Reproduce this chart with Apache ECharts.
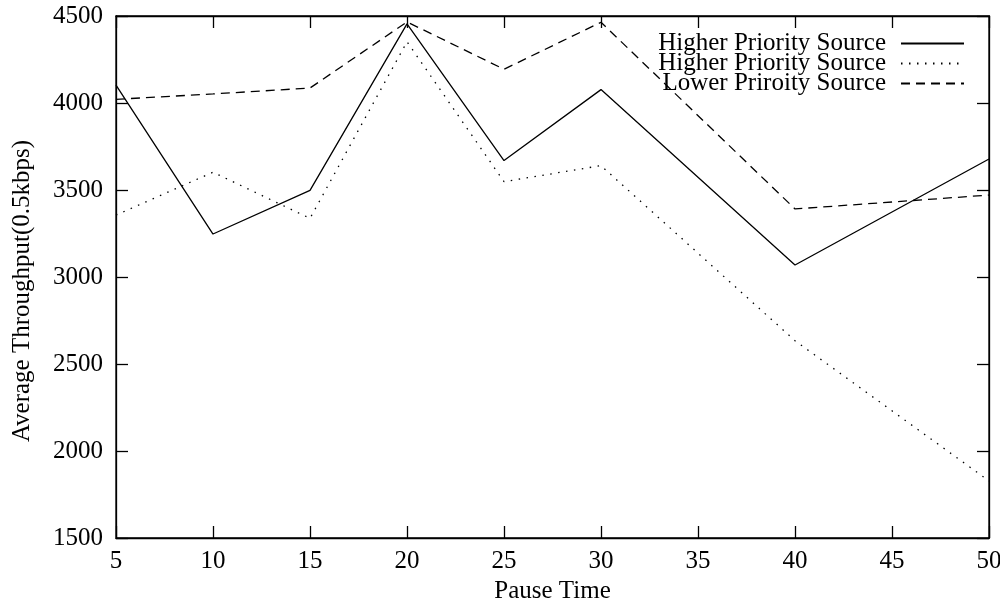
<!DOCTYPE html>
<html>
<head>
<meta charset="utf-8">
<script src="https://cdn.jsdelivr.net/npm/echarts@6/dist/echarts.min.js"></script>
<style>
  html, body { margin: 0; padding: 0; background: #fff; }
  #chart { width: 1000px; height: 606px; }
</style>
</head>
<body>
<div id="chart"></div>
<script>
// pause times on the x axis
const pauseTimes = [5, 10, 15, 20, 25, 30, 40, 50];
// series values
const highSolid = [4103, 3247, 3498, 4455, 3669, 4077, 3069, 3678];
const highDotted = [3356, 3602, 3337, 4352, 3548, 3640, 2634, 1828];
const lowDashed = [4021, 4052, 4086, 4466, 4194, 4464, 3391, 3471];
const legendLabels = ['Higher Priority Source', 'Higher Priority Source', 'Lower Priroity Source'];

const font = 'Liberation Serif';
const fs = 25;

const pairs = vals => pauseTimes.map((x, i) => [x, vals[i]]);

const chart = echarts.init(document.getElementById('chart'));

const mkLegend = (idx, top) => ({
  data: ['s' + idx],
  right: 35,
  top: top,
  align: 'right',
  itemWidth: 63,
  itemHeight: 14,
  padding: 0,
  selectedMode: false,
  itemStyle: { opacity: 0 },
  formatter: () => legendLabels[idx],
  textStyle: { fontFamily: font, fontSize: fs, color: '#000', padding: [0, 10, 0, 0] }
});

const mkSeries = (idx, vals, type) => ({
  name: 's' + idx,
  type: 'line',
  data: pairs(vals),
  symbol: 'none',
  color: '#000',
  animation: false,
  lineStyle: { color: '#000', width: 1.3, type: type }
});

const tickStyle = { inside: true, length: 12, lineStyle: { color: '#000', width: 1.3 } };
const lineAx = { show: true, lineStyle: { color: '#000', width: 1.3 } };

const option = {
  backgroundColor: '#fff',
  animation: false,
  grid: {
    left: 116, right: 11, top: 16, bottom: 68,
    outerBoundsMode: 'none',
    containLabel: false,
    show: true, borderColor: '#000', borderWidth: 1.3
  },
  legend: [mkLegend(0, 31), mkLegend(1, 51), mkLegend(2, 71)],
  xAxis: [{
    type: 'value', min: 5, max: 50, interval: 5,
    name: 'Pause Time', nameLocation: 'middle', nameGap: 41,
    nameTextStyle: { fontFamily: font, fontSize: fs, color: '#000' },
    axisLine: lineAx,
    axisTick: tickStyle,
    axisLabel: { fontFamily: font, fontSize: fs, color: '#000', margin: 11 },
    splitLine: { show: false }
  }, {
    type: 'value', min: 5, max: 50, interval: 5, position: 'top',
    axisLine: lineAx,
    axisTick: tickStyle,
    axisLabel: { show: false },
    splitLine: { show: false }
  }],
  yAxis: [{
    type: 'value', min: 1500, max: 4500, interval: 500,
    name: 'Average Throughput(0.5kbps)', nameLocation: 'middle', nameGap: 81,
    nameTextStyle: { fontFamily: font, fontSize: fs, color: '#000', padding: [0, 28, 0, 0] },
    axisLine: lineAx,
    axisTick: Object.assign({ show: true }, tickStyle),
    axisLabel: { fontFamily: font, fontSize: fs, color: '#000', margin: 13, formatter: v => String(v) },
    splitLine: { show: false }
  }, {
    type: 'value', min: 1500, max: 4500, interval: 500, position: 'right',
    axisLine: lineAx,
    axisTick: Object.assign({ show: true }, tickStyle),
    axisLabel: { show: false },
    splitLine: { show: false }
  }],
  series: [
    mkSeries(0, highSolid, 'solid'),
    mkSeries(1, highDotted, [1.5, 6.5]),
    mkSeries(2, lowDashed, [9, 6])
  ]
};
chart.setOption(option);
</script>
</body>
</html>
